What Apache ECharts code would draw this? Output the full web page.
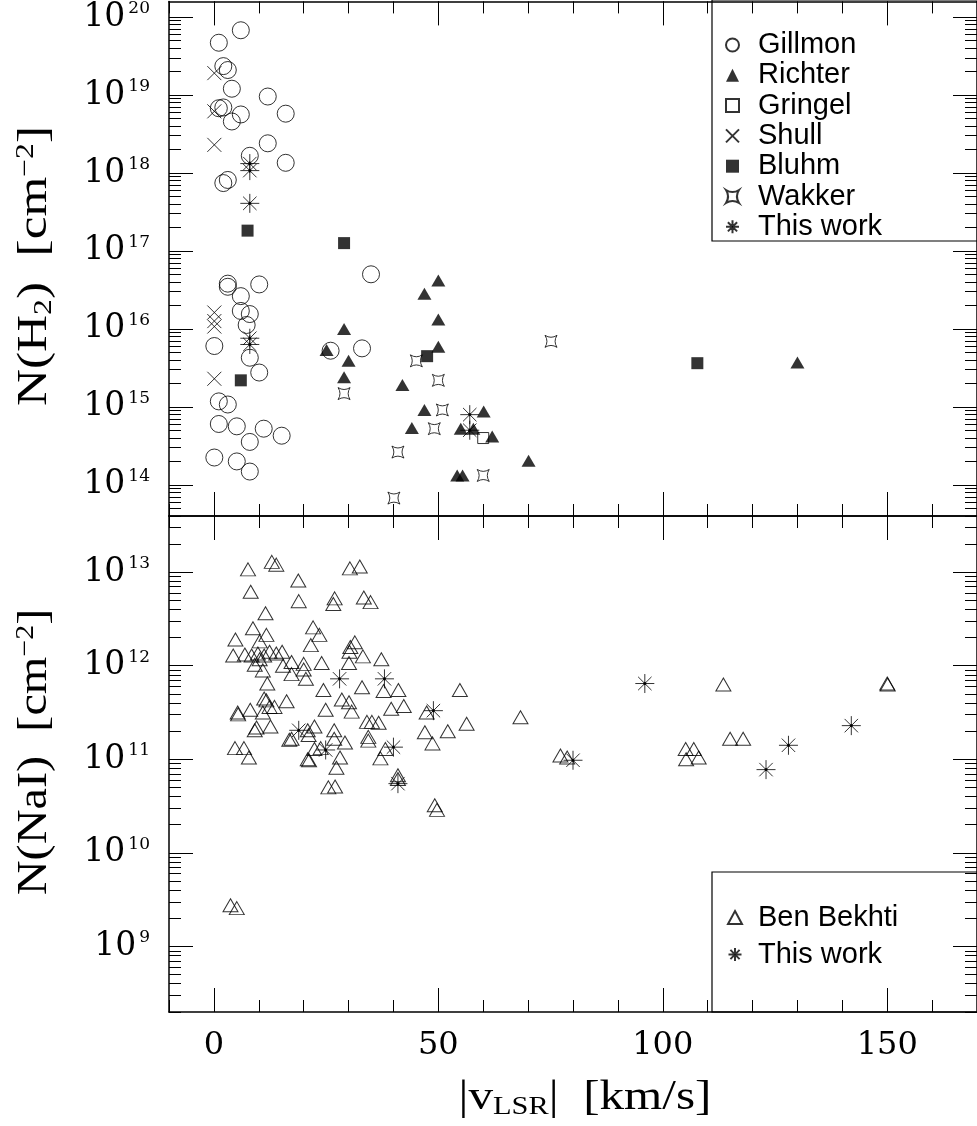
<!DOCTYPE html>
<html>
<head>
<meta charset="utf-8">
<script src="https://cdn.jsdelivr.net/npm/echarts@6/dist/echarts.min.js"></script>
<style>
  html, body { margin: 0; padding: 0; background: #fff; }
  #chart { width: 977px; height: 1126px; }
</style>
</head>
<body>
<div id="chart"></div>
<script>
// |v_LSR| in km/s and log10 column densities (cm^-2)

// ---- N(H2) panel ----
const gillmonV = [6.0, 1.1, 2.1, 3.1, 4.0, 12.0, 1.1, 2.1, 6.0, 4.0, 16.0, 12.0, 8.0, 16.0, 2.1, 3.1,
  35.0, 3.1, 3.1, 10.1, 6.0, 6.0, 8.0, 7.3, 0.1, 8.0, 10.1, 26.0, 33.0, 1.1, 3.1, 1.1, 5.1, 11.1, 15.1, 8.0, 0.1, 5.1, 8.0];
const gillmonLogN = [19.83, 19.67, 19.37, 19.32, 19.08, 18.98, 18.83, 18.84, 18.75, 18.66, 18.76, 18.38, 18.22, 18.13, 17.87, 17.91,
  16.70, 16.58, 16.54, 16.57, 16.42, 16.23, 16.19, 16.05, 15.78, 15.63, 15.44, 15.72, 15.75, 15.07, 15.03, 14.78, 14.75, 14.72, 14.63, 14.55, 14.35, 14.30, 14.17];

const richterV = [25.1, 29.0, 30.0, 29.0, 50.0, 46.9, 50.0, 50.0, 42.0, 46.9, 44.1, 60.1, 55.0, 57.8, 62.0, 70.1, 54.2, 55.4, 130.0];
const richterLogN = [15.73, 16.00, 15.59, 15.38, 16.62, 16.45, 16.12, 15.77, 15.28, 14.96, 14.73, 14.94, 14.72, 14.72, 14.62, 14.31, 14.12, 14.12, 15.57];

const gringelV = [60.0];
const gringelLogN = [14.60];

const shullV = [0.1, 0.1, 0.1, 0.1, 0.1, 0.1, 0.1];
const shullLogN = [19.28, 18.79, 18.36, 16.21, 16.10, 16.03, 15.36];

const bluhmV = [7.5, 29.0, 6.0, 47.5, 107.7];
const bluhmLogN = [17.26, 17.10, 15.34, 15.65, 15.56];

const wakkerV = [45.1, 50.0, 50.9, 49.1, 41.0, 40.1, 29.0, 75.1, 60.0];
const wakkerLogN = [15.59, 15.34, 14.96, 14.72, 14.42, 13.83, 15.17, 15.84, 14.12];

const thisWorkH2V = [8.0, 8.0, 8.0, 8.0, 8.0, 57.0, 57.0];
const thisWorkH2LogN = [18.12, 18.03, 17.61, 15.88, 15.80, 14.90, 14.70];

// ---- N(NaI) panel ----
const benBekhtiV = [
  7.6, 12.9, 13.9, 18.8, 30.3, 32.5, 8.2, 18.9, 26.9, 26.6, 33.4, 34.9, 11.5,
  8.7, 11.7, 4.8, 10.2, 22.1, 23.5, 21.6, 31.4, 30.2, 30.4,
  4.3, 6.9, 8.4, 9.8, 11.2, 12.4, 13.9, 15.2,
  9.1, 10.2, 10.9, 17.3, 17.3, 20.0, 20.0, 20.5, 24.0, 15.4, 33.2, 37.3, 30.1,
  11.9, 24.4, 33.0, 37.8, 41.1, 54.8, 11.2, 11.7, 12.4, 13.5, 16.2, 28.5, 30.1, 30.7,
  5.3, 5.4, 8.1, 10.9, 24.9, 39.5, 42.3, 47.4, 56.3, 68.3,
  9.5, 9.1, 12.6, 16.8, 17.3, 20.9, 22.4, 21.1, 26.8, 26.8, 29.2, 34.1, 35.2, 36.7, 34.4, 34.4,
  47.0, 52.1, 48.7, 38.2, 37.1, 4.7, 6.7, 7.8, 22.4, 23.8, 20.9, 21.2, 28.1, 27.3,
  41.0, 41.0, 25.5, 27.0, 49.2, 49.7, 3.7, 5.1,
  113.5, 150.0, 150.1, 115.0, 117.9, 105.1, 106.9, 105.2, 108.0, 77.2, 78.7];
const benBekhtiLogN = [
  13.03, 13.11, 13.08, 12.91, 13.04, 13.06, 12.79, 12.69, 12.72, 12.66, 12.73, 12.68, 12.56,
  12.40, 12.33, 12.28, 12.26, 12.41, 12.33, 12.22, 12.25, 12.15, 12.20,
  12.11, 12.12, 12.11, 12.13, 12.11, 12.15, 12.13, 12.15,
  12.01, 12.07, 11.95, 12.04, 11.91, 12.02, 11.96, 11.86, 12.03, 12.00, 12.10, 12.07, 12.03,
  11.81, 11.74, 11.77, 11.73, 11.74, 11.74, 11.65, 11.63, 11.56, 11.56, 11.62, 11.64, 11.61, 11.51,
  11.50, 11.48, 11.53, 11.50, 11.53, 11.54, 11.57, 11.50, 11.38, 11.45,
  11.34, 11.31, 11.35, 11.21, 11.22, 11.31, 11.35, 11.26, 11.31, 11.22, 11.18, 11.40, 11.40, 11.39, 11.24, 11.20,
  11.29, 11.30, 11.17, 11.11, 11.01, 11.12, 11.12, 11.02, 11.11, 11.12, 11.00, 10.99, 11.02, 10.91,
  10.83, 10.79, 10.70, 10.71, 10.51, 10.46, 9.44, 9.41,
  11.80, 11.81, 11.80, 11.22, 11.22, 11.11, 11.11, 11.00, 11.02, 11.04, 11.02];

const thisWorkNaV = [28.0, 38.0, 48.9, 96.0, 18.9, 24.9, 40.0, 41.0, 80.0, 123.0, 128.0, 142.0];
const thisWorkNaLogN = [11.86, 11.86, 11.52, 11.81, 11.31, 11.10, 11.13, 10.74, 10.99, 10.89, 11.15, 11.36];

// ---- axes ----
const xRange = [-10, 170];
const xMajorTicks = [0, 50, 100, 150];
const xMinorTicks = [-10, 0, 10, 20, 30, 40, 50, 60, 70, 80, 90, 100, 110, 120, 130, 140, 150, 160, 170];
const yRangeH2 = [13.6, 20.2];
const yMajorH2 = [14, 15, 16, 17, 18, 19, 20];
const yRangeNa = [8.3, 13.6];
const yMajorNa = [9, 10, 11, 12, 13];

const SERIF = '"Liberation Serif", "DejaVu Serif", serif';
const WIDE_SERIF = '"DejaVu Serif", "Liberation Serif", serif';
const SANS = '"Liberation Sans", Arial, Helvetica, sans-serif';

function logMinor(lo, hi) {
  const out = [];
  for (let n = Math.floor(lo); n < hi; n++) {
    for (let k = 2; k <= 9; k++) {
      const v = n + Math.log10(k);
      if (v > lo && v < hi) out.push(v);
    }
  }
  return out;
}

function pairs(xs, ys) { return xs.map((x, i) => [x, ys[i]]); }

const frameLine = { color: '#000', width: 1.5 };
const tickLine = { color: '#000', width: 1 };

function xAxisDef(grid, position, major, withLabels) {
  return {
    type: 'value', gridIndex: grid, position: position,
    min: xRange[0], max: xRange[1],
    axisLine: { show: major, onZero: false, lineStyle: frameLine },
    axisTick: { show: true, inside: true, length: major ? 24 : 12,
      customValues: major ? xMajorTicks : xMinorTicks, lineStyle: tickLine },
    axisLabel: withLabels ? {
      show: true, customValues: xMajorTicks, margin: 18,
      fontFamily: WIDE_SERIF, fontSize: 32, color: '#000'
    } : { show: false },
    splitLine: { show: false }
  };
}

function yAxisDef(grid, position, range, majors, major, withLabels) {
  return {
    type: 'value', gridIndex: grid, position: position,
    min: range[0], max: range[1],
    axisLine: { show: major, onZero: false, lineStyle: frameLine },
    axisTick: { show: true, inside: true, length: major ? 24 : 12,
      customValues: major ? majors : logMinor(range[0], range[1]), lineStyle: tickLine },
    axisLabel: withLabels ? {
      show: true, customValues: majors, margin: 19,
      formatter: v => '{b|10}{s|' + Math.round(v) + '}',
      rich: {
        b: { fontFamily: WIDE_SERIF, fontSize: 33, color: '#000', lineHeight: 34 },
        s: { fontFamily: WIDE_SERIF, fontSize: 17, color: '#000', lineHeight: 20, verticalAlign: 'top', padding: [0, 0, 0, 3] }
      }
    } : { show: false },
    splitLine: { show: false }
  };
}

const xAxes = [
  xAxisDef(0, 'bottom', true, false), xAxisDef(0, 'bottom', false, false),
  xAxisDef(0, 'top', true, false), xAxisDef(0, 'top', false, false),
  xAxisDef(1, 'bottom', true, true), xAxisDef(1, 'bottom', false, false),
  xAxisDef(1, 'top', true, false), xAxisDef(1, 'top', false, false)
];
const yAxes = [
  yAxisDef(0, 'left', yRangeH2, yMajorH2, true, true), yAxisDef(0, 'left', yRangeH2, yMajorH2, false, false),
  yAxisDef(0, 'right', yRangeH2, yMajorH2, true, false), yAxisDef(0, 'right', yRangeH2, yMajorH2, false, false),
  yAxisDef(1, 'left', yRangeNa, yMajorNa, true, true), yAxisDef(1, 'left', yRangeNa, yMajorNa, false, false),
  yAxisDef(1, 'right', yRangeNa, yMajorNa, true, false), yAxisDef(1, 'right', yRangeNa, yMajorNa, false, false)
];

// ---- marker shapes ----
const CROSS = 'path://M0,0L10,10M10,0L0,10';
const STAR4 = 'path://M0,0Q5,3.2 10,0Q6.8,5 10,10Q5,6.8 0,10Q3.2,5 0,0Z';
const ASTER = 'path://M10,0L10,20M0,10L20,10M2.93,2.93L17.07,17.07M17.07,2.93L2.93,17.07' +
  'M11.2,10A1.2,1.2 0 1 1 8.8,10A1.2,1.2 0 1 1 11.2,10Z';
const open = { color: 'rgba(0,0,0,0)', borderColor: '#000', borderWidth: 1 };
const solid = { color: '#000' };
const asterStyle = { color: '#000', borderColor: '#000', borderWidth: 1 };

function scatter(name, grid, xs, ys, symbol, size, style, z) {
  return {
    type: 'scatter', name: name, xAxisIndex: grid * 4, yAxisIndex: grid * 4,
    data: pairs(xs, ys), symbol: symbol, symbolSize: size,
    itemStyle: style, z: z || 2, silent: true, animation: false
  };
}

const series = [
  scatter('Gillmon', 0, gillmonV, gillmonLogN, 'circle', 17, open),
  scatter('Richter', 0, richterV, richterLogN, 'triangle', [14, 12], solid),
  scatter('Gringel', 0, gringelV, gringelLogN, 'rect', 11, open),
  scatter('Shull', 0, shullV, shullLogN, CROSS, 14, open),
  scatter('Bluhm', 0, bluhmV, bluhmLogN, 'rect', 12, solid),
  scatter('Wakker', 0, wakkerV, wakkerLogN, STAR4, 12, open),
  scatter('This work', 0, thisWorkH2V, thisWorkH2LogN, ASTER, 19, asterStyle, 3),
  scatter('Ben Bekhti', 1, benBekhtiV, benBekhtiLogN, 'triangle', [15, 13], open),
  scatter('This work ', 1, thisWorkNaV, thisWorkNaLogN, ASTER, 19, asterStyle, 3)
];

const legendText = { fontFamily: SANS, fontSize: 29, color: '#000' };

const titleRich = {
  t: { fontFamily: SERIF, fontSize: 42, fill: '#000', lineHeight: 44 },
  d: { fontFamily: SERIF, fontSize: 26, fill: '#000', lineHeight: 26, verticalAlign: 'bottom' },
  u: { fontFamily: SERIF, fontSize: 26, fill: '#000', lineHeight: 26, verticalAlign: 'top' }
};

const option = {
  backgroundColor: '#fff',
  animation: false,
  grid: [
    { left: 169, top: 0, width: 815, height: 516 },
    { left: 169, top: 516, width: 815, height: 496 }
  ],
  xAxis: xAxes,
  yAxis: yAxes,
  legend: [
    {
      data: ['Gillmon', 'Richter', 'Gringel', 'Shull', 'Bluhm', 'Wakker', 'This work'],
      orient: 'vertical', left: 725, top: 30, padding: 0, itemGap: 0.3,
      itemWidth: 13, itemHeight: 13, selectedMode: false,
      textStyle: Object.assign({ lineHeight: 30, padding: [0, 0, 0, 14] }, legendText)
    },
    {
      data: ['Ben Bekhti', 'This work '],
      orient: 'vertical', left: 727, top: 899, padding: 0, itemGap: 0,
      itemWidth: 14, itemHeight: 13, selectedMode: false,
      formatter: n => n.trim(),
      textStyle: Object.assign({ lineHeight: 37, padding: [0, 0, 0, 11] }, legendText)
    }
  ],
  graphic: [
    { type: 'rect', shape: { x: 712, y: 0, width: 290, height: 241 },
      style: { fill: 'none', stroke: '#000', lineWidth: 1.2 }, z: 10, silent: true },
    { type: 'rect', shape: { x: 712, y: 872, width: 290, height: 140 },
      style: { fill: 'none', stroke: '#000', lineWidth: 1.2 }, z: 10, silent: true },
    { type: 'text', x: 35, y: 266, rotation: Math.PI / 2, scaleX: 1.22, silent: true,
      style: {
        text: '{t|N(H}{d|2}{t|)  [cm}{u|−2}{t|]}', align: 'center', verticalAlign: 'middle',
        rich: titleRich
      } },
    { type: 'text', x: 35, y: 752, rotation: Math.PI / 2, scaleX: 1.15, silent: true,
      style: {
        text: '{t|N(NaI)  [cm}{u|−2}{t|]}', align: 'center', verticalAlign: 'middle',
        rich: titleRich
      } },
    { type: 'text', x: 585, y: 1098, scaleX: 1.17, silent: true,
      style: {
        text: '{t||v}{d|LSR}{t||  [km/s]}', align: 'center', verticalAlign: 'middle',
        rich: titleRich
      } }
  ],
  series: series
};

const chart = echarts.init(document.getElementById('chart'), null, { renderer: 'canvas' });
chart.setOption(option);
</script>
</body>
</html>
